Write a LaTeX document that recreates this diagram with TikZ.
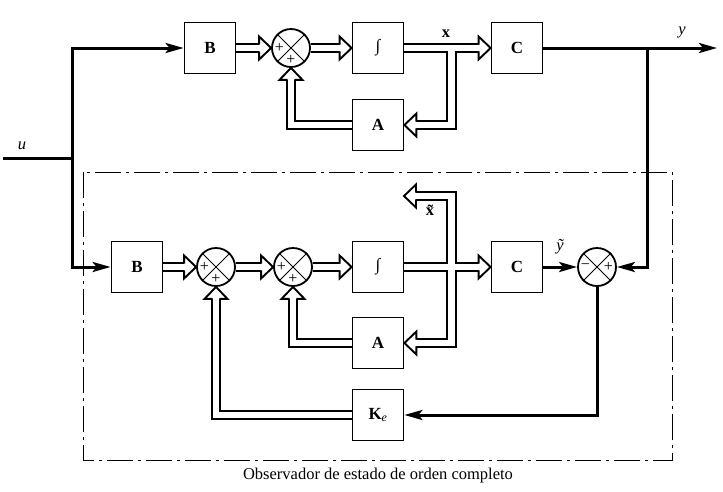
\documentclass[tikz,border=0pt]{standalone}
\usepackage{fontspec}
\setmainfont{Liberation Serif}
\usetikzlibrary{arrows.meta,calc}
\pgfdeclarelayer{background}
\pgfsetlayers{background,main}
\tikzset{
  blk/.style={draw, line width=1.8pt, minimum width=51pt, minimum height=51pt, inner sep=0pt, font=\fontsize{17}{20}\selectfont\bfseries},
  sumnode/.style={draw, circle, line width=1.8pt, minimum size=38pt, inner sep=0pt},
  thk/.style={line width=3pt},
  thkarrow/.style={thk, -{Stealth[length=18pt,width=10pt,inset=4pt]}},
  dblout/.style={line width=10.5pt, black},
  dblin/.style={line width=6.7pt, white},
  lbl/.style={font=\fontsize{16.5}{19}\selectfont, inner sep=0pt},
  sgn/.style={font=\fontsize{16}{18}\selectfont, inner sep=0pt},
  obs/.style={line width=1pt, dash pattern=on 26pt off 5pt on 3pt off 5pt},
}
\newcommand{\dbl}[1]{\draw[dblout] #1; \draw[dblin] #1;}
\newcommand{\dhead}[2]{%
  \begin{scope}[shift={#1}, rotate=#2]
    \fill[white] (-12,-11.5) -- (0,0) -- (-12,11.5) -- cycle;
    \draw[line width=1.9pt, line join=miter] (-12,-3.35) -- (-12,-11.5) -- (0,0) -- (-12,11.5) -- (-12,3.35);
  \end{scope}}
\begin{document}
\begin{tikzpicture}[x=1pt,y=-1pt]
\useasboundingbox (0,0) rectangle (723,491);
% top system
\node[blk] (Bt) at (210,48) {B};
\node[sumnode] (St) at (291,48) {};
\node[blk] (It) at (378,48) {\mdseries ∫};
\node[blk] (Ct) at (517,48) {C};
\node[blk] (At) at (378,125) {A};
% observer
\node[blk] (Bb) at (137,267) {B};
\node[sumnode] (S1) at (216,267) {};
\node[sumnode] (S2) at (293,267) {};
\node[blk] (Ib) at (378,267) {\mdseries ∫};
\node[blk] (Cb) at (517,267) {C};
\node[blk] (Ab) at (378,343) {A};
\node[blk] (Ke) at (378,415) {K\textsubscript{\mdseries\itshape e}};
\node[sumnode] (Sr) at (597,267) {};
\foreach \s in {St,S1,S2,Sr} {
  \draw[line width=1pt] (\s.north west) -- (\s.south east) (\s.north east) -- (\s.south west);
}
\foreach \s in {St,S1,S2} {
  \node[sgn] at ($(\s)+(-11.5,0)$) {+};
  \node[sgn] at ($(\s)+(0,11.5)$) {+};
}
\node[sgn] at ($(Sr)+(-11.5,0)$) {−};
\node[sgn] at ($(Sr)+(11.5,0)$) {+};
% coordinates
\coordinate (uin) at (3,158);
\coordinate (uj) at (72,158);
\coordinate (yout) at (717,48);
\coordinate (yj) at (647,48);
\coordinate (xj) at (451.5,48);
\coordinate (xbj) at (451.5,267);
\coordinate (xtip) at (404,196);
% thick signal lines
\draw[thk] (uin) -- (uj);
\draw[thkarrow] (uj) |- (Bt.west);
\draw[thkarrow] (uj) |- (Bb.west);
\draw[thkarrow] (Ct.east) -- (yout);
\draw[thkarrow] (yj) |- (Sr.east);
\draw[thkarrow] (Cb.east) -- (Sr.west);
\draw[thkarrow] (Sr.south) |- (Ke.east);
% double (vector) lines
\begin{pgfonlayer}{background}
\dbl{(Bt.east) -- ($(St.west)+(-12,0)$)}
\dbl{(St.east) -- ($(It.west)+(-12,0)$)}
\dbl{(It.east) -- ($(Ct.west)+(-12,0)$) (xj) |- ($(At.east)+(12,0)$)}
\dbl{(At.west) -| ($(St.south)+(0,12)$)}
\dbl{(Bb.east) -- ($(S1.west)+(-12,0)$)}
\dbl{(S1.east) -- ($(S2.west)+(-12,0)$)}
\dbl{(S2.east) -- ($(Ib.west)+(-12,0)$)}
\dbl{(Ib.east) -- ($(Cb.west)+(-12,0)$) ($(xtip)+(12,0)$) -| (xbj) |- ($(Ab.east)+(12,0)$)}
\dbl{(Ab.west) -| ($(S2.south)+(0,12)$)}
\dbl{(Ke.west) -| ($(S1.south)+(0,12)$)}
\dhead{(St.west)}{0}
\dhead{(It.west)}{0}
\dhead{(Ct.west)}{0}
\dhead{(At.east)}{180}
\dhead{(St.south)}{90}
\dhead{(S1.west)}{0}
\dhead{(S2.west)}{0}
\dhead{(Ib.west)}{0}
\dhead{(Cb.west)}{0}
\dhead{(xtip)}{180}
\dhead{(Ab.east)}{180}
\dhead{(S2.south)}{90}
\dhead{(S1.south)}{90}
\end{pgfonlayer}
% observer frame
\draw[obs] (83,172) rectangle (672,460);
% labels
\node[lbl] (xl) at (446,34) {\bfseries x};
\node[lbl] (yl) at (682,32) {\itshape y};
\node[lbl] (ul) at (22,146) {\itshape u};
\node[lbl] (xtl) at (430,210) {\bfseries x^^^^0303};
\node[lbl] (ytl) at (560,247) {\itshape ^^^^1ef9};
\node[lbl] (cap) at (378,476) {Observador de estado de orden completo};
\end{tikzpicture}
\end{document}
